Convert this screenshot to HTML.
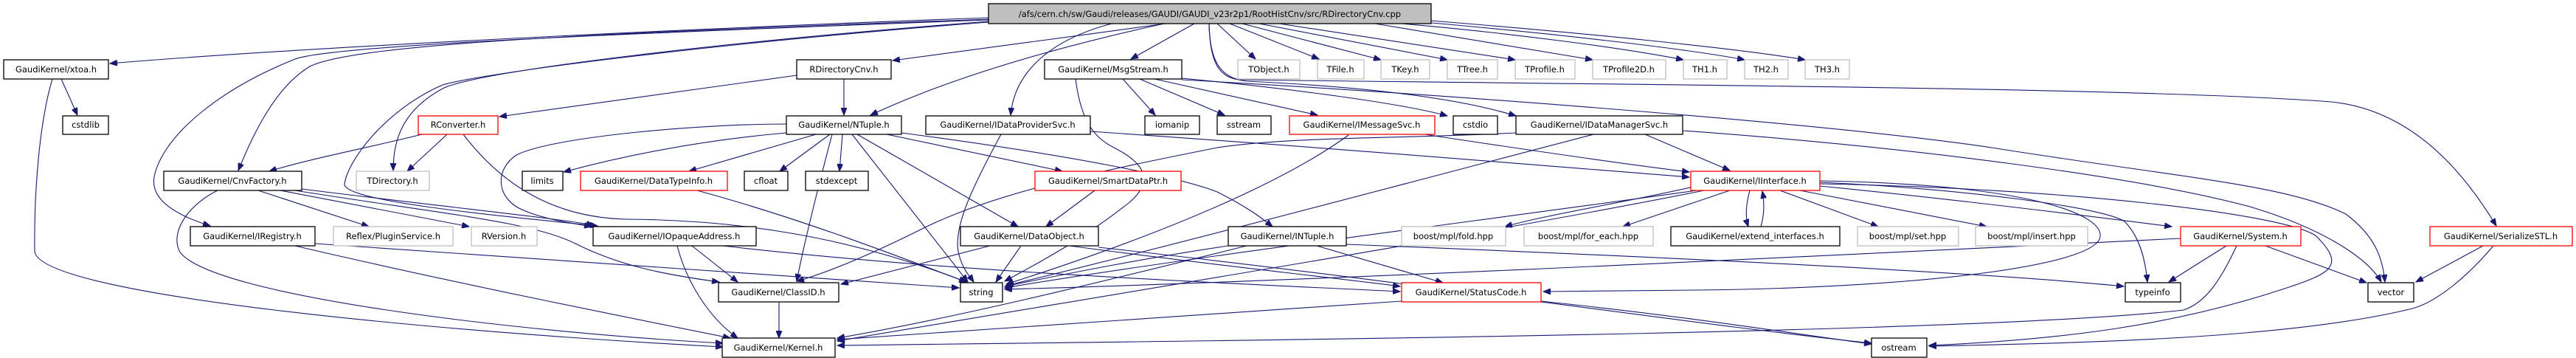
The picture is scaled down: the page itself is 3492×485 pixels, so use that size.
<!DOCTYPE html>
<html><head><meta charset="utf-8"><style>
html,body{margin:0;padding:0;background:#fff;}
svg{display:block;}
text{font-family:"DejaVu Sans","Liberation Sans",sans-serif;font-size:11.5px;fill:#000;text-anchor:middle;}
.e{fill:none;stroke:#191970;stroke-width:1.1;marker-end:url(#a);}
.b{fill:#fff;stroke:#000;stroke-width:1.3;}
.g{fill:#fff;stroke:#bfbfbf;stroke-width:1.3;}
.r{fill:#fff;stroke:#ff0000;stroke-width:1.3;}
</style></head><body>
<svg width="3492" height="485" viewBox="0 0 3492 485" xmlns="http://www.w3.org/2000/svg">
<defs><marker id="a" markerUnits="userSpaceOnUse" markerWidth="11" markerHeight="8" refX="10" refY="4" orient="auto"><path d="M0,0 L10,4 L0,8 z" fill="#191970" stroke="#191970"/></marker></defs>
<g>
<path class="e" d="M1340,24 C900,40 400,65 149,86"/>
<path class="e" d="M1340,26 C800,45 480,60 420,90 C370,120 340,190 323,231"/>
<path class="e" d="M1340,27 C800,47 450,62 400,80 C300,120 225,180 210,235 C200,270 240,292 285,306"/>
<path class="e" d="M1340,29 C1000,55 650,95 600,120 C545,150 533,190 533,231"/>
<path class="e" d="M1340,30 C950,60 650,100 600,115 C520,150 470,220 467,250 C470,272 650,290 810,306"/>
<path class="e" d="M1580,32 C1450,50 1300,70 1210,82"/>
<path class="e" d="M1578,32 C1450,60 1300,100 1180,156"/>
<path class="e" d="M1507,32 C1420,55 1375,100 1370,156"/>
<path class="e" d="M1619,32 L1533,80"/>
<path class="e" d="M1650,32 L1702,80"/>
<path class="e" d="M1667,32 L1788,80"/>
<path class="e" d="M1684,32 L1872,81"/>
<path class="e" d="M1707,32 L1962,81"/>
<path class="e" d="M1734,32 L2054,81"/>
<path class="e" d="M1864,32 L2159,81"/>
<path class="e" d="M1900,32 C2050,45 2200,65 2282,81"/>
<path class="e" d="M1930,30 C2100,45 2280,65 2365,81"/>
<path class="e" d="M1940,28 C2150,45 2350,65 2447,81"/>
<path class="e" d="M1639,32 C1640,80 1650,105 1680,108 C2200,115 2900,118 3160,138 C3280,150 3350,250 3384,306"/>
<path class="e" d="M1522,107 L1566,156"/>
<path class="e" d="M1545,107 L1660,156"/>
<path class="e" d="M1565,107 L1786,156"/>
<path class="e" d="M1602,106 C1750,120 1900,140 1962,157"/>
<path class="e" d="M1639,32 C1640,80 1652,106 1690,110 C1900,120 2000,140 2055,157"/>
<path class="e" d="M1458,107 C1465,160 1480,185 1510,200 C1560,225 1560,250 1530,275 C1460,330 1400,360 1362,381"/>
<path class="e" d="M1602,108 C2000,130 2500,170 2700,200 C2950,240 3100,250 3180,290 C3220,320 3230,350 3233,382"/>
<path class="e" d="M2281,177 C2600,200 2900,240 3050,280 C3150,310 3210,350 3228,382"/>
<path class="e" d="M2230,182 L2345,231"/>
<path class="e" d="M1931,182 C2050,200 2200,222 2290,233"/>
<path class="e" d="M1478,178 C1800,200 2100,225 2290,240"/>
<path class="e" d="M2055,180 C1900,188 1750,185 1650,200 C1500,230 1350,260 1250,310 C1180,345 1120,370 1080,381"/>
<path class="e" d="M1828,183 C1750,240 1600,310 1364,385"/>
<path class="e" d="M2160,182 C1900,250 1600,330 1364,387"/>
<path class="e" d="M2300,258 C2000,300 1600,350 1362,390"/>
<path class="e" d="M2310,258 C2000,320 1500,400 1135,462"/>
<path class="e" d="M2300,252 C2200,275 2100,290 2040,307"/>
<path class="e" d="M2345,258 L2200,307"/>
<path class="e" d="M2372,258 C2366,280 2366,295 2370,307"/>
<path class="e" d="M2387,307 C2392,290 2392,275 2389,259"/>
<path class="e" d="M2413,258 L2546,307"/>
<path class="e" d="M2440,258 L2693,307"/>
<path class="e" d="M2467,252 C2650,270 2850,295 2944,307"/>
<path class="e" d="M2467,247 C2650,255 2850,280 2880,300 C2900,320 2908,350 2911,382"/>
<path class="e" d="M2467,245 C2750,250 2850,290 2847,320 C2845,360 2600,390 2300,393 L2092,395"/>
<path class="e" d="M2467,249 C2800,255 3100,290 3140,320 C3180,360 3160,370 3100,390 C2950,440 2800,460 2615,468"/>
<path class="e" d="M3018,333 L2940,382"/>
<path class="e" d="M3071,333 L3208,383"/>
<path class="e" d="M2956,323 C2500,345 1800,380 1362,392"/>
<path class="e" d="M3032,333 C3010,380 2990,410 2960,420 C2700,450 1800,460 1135,468"/>
<path class="e" d="M3366,333 L3275,382"/>
<path class="e" d="M3380,333 C3340,380 3300,410 3270,418 C3100,460 2800,465 2615,469"/>
<path class="e" d="M2089,408 C2300,430 2450,455 2537,466"/>
<path class="e" d="M1900,408 C1600,430 1300,450 1135,460"/>
<path class="e" d="M1665,333 C1550,350 1450,370 1362,388"/>
<path class="e" d="M1690,333 C1500,380 1300,430 1135,458"/>
<path class="e" d="M1785,333 L1956,383"/>
<path class="e" d="M1825,331 C2300,350 2700,370 2879,388"/>
<path class="e" d="M1222,180 C1450,210 1600,240 1650,260 C1690,280 1710,295 1725,307"/>
<path class="e" d="M1202,182 L1440,232"/>
<path class="e" d="M1162,182 L1380,307"/>
<path class="e" d="M1155,182 L1312,382"/>
<path class="e" d="M1142,182 L1138,232"/>
<path class="e" d="M1125,182 L1057,232"/>
<path class="e" d="M1106,182 L934,232"/>
<path class="e" d="M1066,180 C950,190 850,210 764,233"/>
<path class="e" d="M1066,168 C950,168 750,185 700,210 C670,230 672,270 710,285 C740,298 780,303 802,307"/>
<path class="e" d="M1128,182 C1110,250 1090,330 1080,381"/>
<path class="e" d="M1144,107 L1144,156"/>
<path class="e" d="M1080,102 L677,158"/>
<path class="e" d="M606,182 L552,232"/>
<path class="e" d="M572,182 C500,200 420,215 365,232"/>
<path class="e" d="M628,182 C680,250 750,295 850,297 C1000,298 1150,320 1310,382"/>
<path class="e" d="M350,258 L500,307"/>
<path class="e" d="M380,258 L636,307"/>
<path class="e" d="M400,258 C600,290 720,300 780,330 C840,360 900,372 975,382"/>
<path class="e" d="M409,256 C600,280 750,295 805,305"/>
<path class="e" d="M295,258 C260,275 230,310 243,340 C280,400 700,450 980,465"/>
<path class="e" d="M83,107 L105,156"/>
<path class="e" d="M71,107 C55,160 46,250 47,340 C50,400 600,450 980,470"/>
<path class="e" d="M427,330 C700,350 1000,370 1300,390"/>
<path class="e" d="M400,333 C600,380 850,430 990,458"/>
<path class="e" d="M938,333 L1000,382"/>
<path class="e" d="M918,333 C930,380 960,430 1000,458"/>
<path class="e" d="M980,333 C1300,370 1700,385 1898,395"/>
<path class="e" d="M945,258 C1100,300 1250,360 1310,382"/>
<path class="e" d="M1484,258 L1418,307"/>
<path class="e" d="M1384,333 L1350,382"/>
<path class="e" d="M1342,333 L1140,385"/>
<path class="e" d="M1450,333 C1650,360 1800,375 1898,388"/>
<path class="e" d="M1489,335 C1900,380 2300,440 2537,465"/>
<path class="e" d="M1056,409 L1056,458"/>
<path class="e" d="M1357,182 C1320,250 1290,310 1300,345 C1305,365 1315,375 1320,382"/>
</g>
<g>
<rect x="1340" y="5" width="600" height="27" fill="#bfbfbf" stroke="#000" stroke-width="1.3"/><text x="1640" y="23">/afs/cern.ch/sw/Gaudi/releases/GAUDI/GAUDI_v23r2p1/RootHistCnv/src/RDirectoryCnv.cpp</text>
<rect class="b" x="5" y="81" width="142" height="26"/><text x="76" y="98">GaudiKernel/xtoa.h</text>
<rect class="b" x="1080" y="81" width="128" height="26"/><text x="1144" y="98">RDirectoryCnv.h</text>
<rect class="b" x="1416" y="81" width="186" height="26"/><text x="1509" y="98">GaudiKernel/MsgStream.h</text>
<rect class="g" x="1678" y="81" width="84" height="26"/><text x="1720" y="98">TObject.h</text>
<rect class="g" x="1786" y="81" width="63" height="26"/><text x="1817" y="98">TFile.h</text>
<rect class="g" x="1872" y="81" width="66" height="26"/><text x="1905" y="98">TKey.h</text>
<rect class="g" x="1962" y="81" width="68" height="26"/><text x="1996" y="98">TTree.h</text>
<rect class="g" x="2054" y="81" width="81" height="26"/><text x="2094" y="98">TProfile.h</text>
<rect class="g" x="2159" y="81" width="99" height="26"/><text x="2208" y="98">TProfile2D.h</text>
<rect class="g" x="2282" y="81" width="59" height="26"/><text x="2311" y="98">TH1.h</text>
<rect class="g" x="2365" y="81" width="59" height="26"/><text x="2394" y="98">TH2.h</text>
<rect class="g" x="2447" y="81" width="60" height="26"/><text x="2477" y="98">TH3.h</text>

<rect class="b" x="85" y="157" width="62" height="25"/><text x="116" y="173">cstdlib</text>
<rect class="r" x="567" y="157" width="108" height="25"/><text x="621" y="173">RConverter.h</text>
<rect class="b" x="1066" y="157" width="156" height="25"/><text x="1144" y="173">GaudiKernel/NTuple.h</text>
<rect class="b" x="1255" y="157" width="223" height="25"/><text x="1366" y="173">GaudiKernel/IDataProviderSvc.h</text>
<rect class="b" x="1552" y="157" width="74" height="25"/><text x="1589" y="173">iomanip</text>
<rect class="b" x="1650" y="157" width="73" height="25"/><text x="1686" y="173">sstream</text>
<rect class="r" x="1748" y="157" width="197" height="25"/><text x="1846" y="173">GaudiKernel/IMessageSvc.h</text>
<rect class="b" x="1970" y="157" width="60" height="25"/><text x="2000" y="173">cstdio</text>
<rect class="b" x="2055" y="157" width="226" height="25"/><text x="2168" y="173">GaudiKernel/IDataManagerSvc.h</text>

<rect class="b" x="222" y="232" width="187" height="26"/><text x="315" y="249">GaudiKernel/CnvFactory.h</text>
<rect class="g" x="483" y="232" width="99" height="26"/><text x="532" y="249">TDirectory.h</text>
<rect class="b" x="708" y="232" width="55" height="26"/><text x="735" y="249">limits</text>
<rect class="r" x="787" y="232" width="199" height="26"/><text x="886" y="249">GaudiKernel/DataTypeInfo.h</text>
<rect class="b" x="1009" y="232" width="59" height="26"/><text x="1038" y="249">cfloat</text>
<rect class="b" x="1092" y="232" width="85" height="26"/><text x="1134" y="249">stdexcept</text>
<rect class="r" x="1403" y="232" width="198" height="26"/><text x="1502" y="249">GaudiKernel/SmartDataPtr.h</text>
<rect class="r" x="2292" y="232" width="175" height="26"/><text x="2379" y="249">GaudiKernel/IInterface.h</text>

<rect class="b" x="258" y="307" width="169" height="26"/><text x="342" y="324">GaudiKernel/IRegistry.h</text>
<rect class="g" x="452" y="307" width="162" height="26"/><text x="533" y="324">Reflex/PluginService.h</text>
<rect class="g" x="639" y="307" width="89" height="26"/><text x="683" y="324">RVersion.h</text>
<rect class="b" x="804" y="307" width="221" height="26"/><text x="914" y="324">GaudiKernel/IOpaqueAddress.h</text>
<rect class="b" x="1302" y="307" width="187" height="26"/><text x="1395" y="324">GaudiKernel/DataObject.h</text>
<rect class="b" x="1665" y="307" width="160" height="26"/><text x="1745" y="324">GaudiKernel/INTuple.h</text>
<rect class="g" x="1900" y="307" width="141" height="26"/><text x="1970" y="324">boost/mpl/fold.hpp</text>
<rect class="g" x="2066" y="307" width="175" height="26"/><text x="2153" y="324">boost/mpl/for_each.hpp</text>
<rect class="b" x="2265" y="307" width="229" height="26"/><text x="2379" y="324">GaudiKernel/extend_interfaces.h</text>
<rect class="g" x="2518" y="307" width="137" height="26"/><text x="2586" y="324">boost/mpl/set.hpp</text>
<rect class="g" x="2678" y="307" width="152" height="26"/><text x="2754" y="324">boost/mpl/insert.hpp</text>
<rect class="r" x="2956" y="307" width="163" height="26"/><text x="3037" y="324">GaudiKernel/System.h</text>
<rect class="r" x="3294" y="307" width="193" height="26"/><text x="3390" y="324">GaudiKernel/SerializeSTL.h</text>

<rect class="b" x="974" y="383" width="163" height="26"/><text x="1055" y="400">GaudiKernel/ClassID.h</text>
<rect class="b" x="1302" y="383" width="57" height="26"/><text x="1330" y="400">string</text>
<rect class="r" x="1900" y="383" width="189" height="26"/><text x="1994" y="400">GaudiKernel/StatusCode.h</text>
<rect class="b" x="2881" y="383" width="75" height="26"/><text x="2918" y="400">typeinfo</text>
<rect class="b" x="3210" y="383" width="62" height="26"/><text x="3241" y="400">vector</text>

<rect class="b" x="979" y="458" width="153" height="26"/><text x="1055" y="475">GaudiKernel/Kernel.h</text>
<rect class="b" x="2537" y="458" width="75" height="26"/><text x="2574" y="475">ostream</text>
</g>
</svg>
</body></html>
